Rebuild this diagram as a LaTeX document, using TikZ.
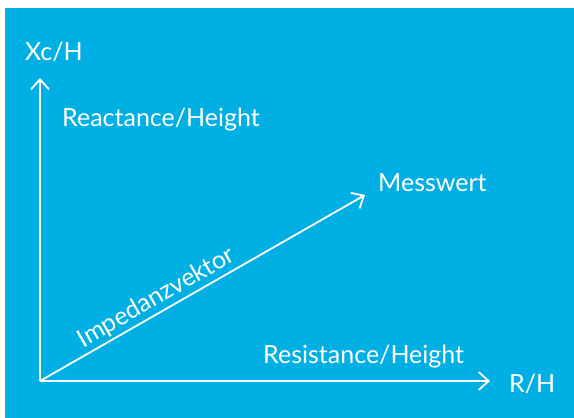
\documentclass[tikz,border=0pt]{standalone}
\usepackage{fontspec}
\setmainfont{Lato}
\usetikzlibrary{arrows.meta}
\definecolor{skyblue}{RGB}{0,175,228}
\tikzset{
    axis/.style={draw=white, line width=1.8pt, -{Straight Barb[length=10pt,width=18pt,line width=1.8pt]}},
    lbl/.style={text=white, font=\fontsize{25}{30}\selectfont, inner sep=0pt, anchor=base west}
}
\begin{document}
\begin{tikzpicture}[x=1pt,y=-1pt]
        \useasboundingbox (0,0) rectangle (574,418);
        \fill[skyblue] (5,8) rectangle (574,418);

        \coordinate (origin) at (40,381);
        \coordinate (ytip) at (40,78);
        \coordinate (xtip) at (490,381);
        \coordinate (mtip) at (365,195);

        \node[lbl] (xclabel) at (25,60) {Xc/H};
        \node[lbl] (reactance) at (62,126) {Reactance/Height};
        \node[lbl] (messwert) at (378,191) {Messwert};
        \node[lbl] (resistance) at (263,363) {Resistance/Height};
        \node[lbl] (rlabel) at (509,392) {R/H};

        \draw[axis] (origin) -- (ytip);
        \draw[axis] (origin) -- (xtip);
        \draw[axis] (origin) -- (mtip) node[pos=0.38, sloped, above=2pt, text=white, font=\fontsize{25}{30}\selectfont, inner sep=0pt] (vektor) {Impedanzvektor};
    \end{tikzpicture}
\end{document}
